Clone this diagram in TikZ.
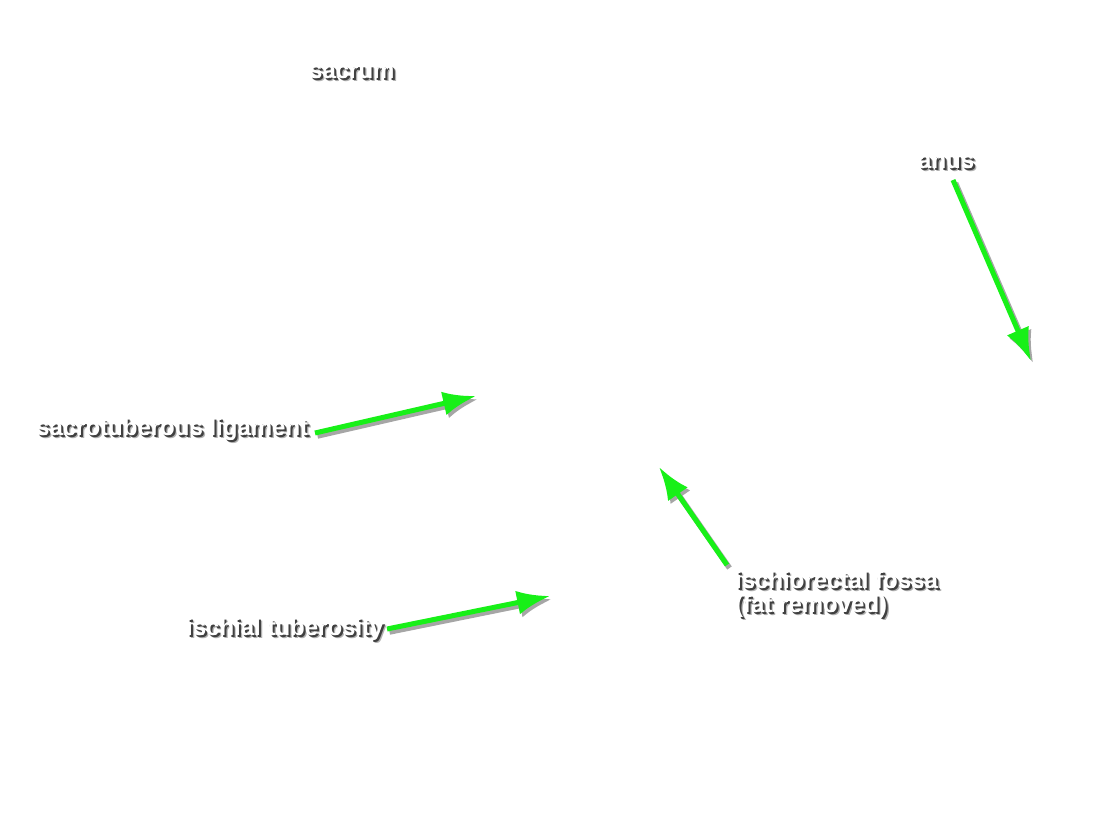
\documentclass[tikz,border=0pt]{standalone}
\usepackage{fontspec}
\setmainfont{Liberation Sans}
\usetikzlibrary{arrows.meta}

\definecolor{arrowgreen}{RGB}{24,240,24}
\newcommand{\shtext}[1]{%
\makebox[0pt][l]{\hspace{3.2pt}\raisebox{-3.8pt}{\textcolor{black!30}{#1}}}%
\makebox[0pt][l]{\hspace{2pt}\raisebox{-2.4pt}{\textcolor{black!75}{#1}}}%
\textcolor{white}{#1}}

\tikzset{
  lbl/.style = {anchor=base west, inner sep=0pt, font=\fontsize{24}{24}\selectfont\bfseries, align=left},
  pointer/.style = {draw=arrowgreen, line width=5pt, -{Latex[length=33pt,width=24pt]}},
  pointershadow/.style = {draw=black!35, line width=5.5pt, -{Latex[length=33pt,width=24pt]},
    transform canvas={shift={(2.5pt,-3pt)}}}
}

\begin{document}
\begin{tikzpicture}[x=1pt,y=-1pt]
\useasboundingbox (0,0) rectangle (1100,819);
\node[lbl] (sacrum) at (309,78) {\shtext{sacrum}};
\node[lbl] (anus) at (918,168) {\shtext{anus}};
\node[lbl] (stlig) at (36,435) {\shtext{sacrotuberous ligament}};
\node[lbl] (istub) at (186,635) {\shtext{ischial tuberosity}};
\node[lbl] (fossa) at (735,588) {\shtext{ischiorectal fossa}};
\node[lbl] (fat) at (735,612) {\shtext{(fat removed)}};
\coordinate (anus-tip) at (1031,361);
\coordinate (stlig-tip) at (476,396);
\coordinate (fossa-tip) at (659,467);
\coordinate (istub-tip) at (550,596);
\coordinate (anus-from) at (953,180);
\coordinate (stlig-from) at (315,433);
\coordinate (fossa-from) at (727,565);
\coordinate (istub-from) at (387,629);
\foreach \n in {anus,stlig,fossa,istub}{
\draw[pointershadow] (\n-from) -- (\n-tip);
\draw[pointer] (\n-from) -- (\n-tip);};
\end{tikzpicture}
\end{document}
